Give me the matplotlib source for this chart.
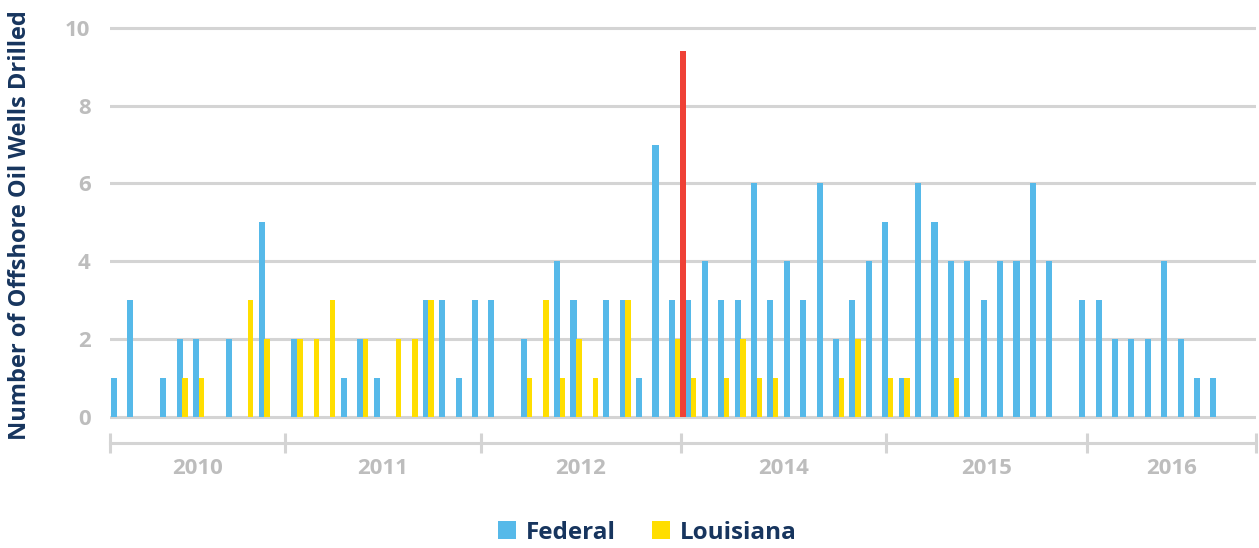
import matplotlib.pyplot as plt
import numpy as np

# monthly slots
federal = [1, 3, 0, 1, 2, 2, 0, 2, 0, 5,
           0, 2, 0, 0, 1, 2, 1, 0, 0, 3,
           3, 1, 3, 3, 0, 2, 0, 4, 3, 0,
           3, 3, 1, 7, 3, 3, 4, 3, 3, 6,
           3, 4, 3, 6, 2, 3, 4, 5, 1, 6,
           5, 4, 4, 3, 4, 4, 6, 4, 0, 3,
           3, 2, 2, 2, 4, 2, 1, 1, 0, 0]
louisiana = [0, 0, 0, 0, 1, 1, 0, 0, 3, 2,
             0, 2, 2, 3, 0, 2, 0, 2, 2, 3,
             0, 0, 0, 0, 0, 1, 3, 1, 2, 1,
             0, 3, 0, 0, 2, 1, 0, 1, 2, 1,
             1, 0, 0, 0, 1, 2, 0, 1, 1, 0,
             0, 1, 0, 0, 0, 0, 0, 0, 0, 0,
             0, 0, 0, 0, 0, 0, 0, 0, 0, 0]
highlight_slot = 34
highlight_value = 9.4

years = ['2010', '2011', '2012', '2014', '2015', '2016']
year_edges = [-0.04, 10.6, 22.55, 34.72, 47.23, 59.46, 69.76]

BLUE = '#56B9E9'
YELLOW = '#FFDE00'
RED = '#EF4136'
GRID = '#D4D4D4'
TICK_GREY = '#BDBDBD'
NAVY = '#17355E'
FONT = 'Open Sans'

fig = plt.figure(figsize=(12.59, 5.48), dpi=100)
ax = fig.add_axes([110 / 1259, 1 - 443 / 548, 1146 / 1259, (443 - 26) / 548])

x = np.arange(len(federal))
ax.bar(x, federal, width=0.37, align='edge', color=BLUE, label='Federal', zorder=2)
ax.bar(x + 0.35, louisiana, width=0.33, align='edge', color=YELLOW, label='Louisiana', zorder=3)
ax.bar(highlight_slot + 0.68, highlight_value, width=0.37, align='edge', color=RED, zorder=4)

ax.set_xlim(-0.06, 69.78)
ax.set_ylim(-0.68, 10.05)

ax.set_yticks(range(0, 11, 2))
ax.yaxis.grid(True, color=GRID, linewidth=2.2)
ax.set_axisbelow(True)
ax.tick_params(axis='y', length=0, pad=14, labelsize=16, labelcolor=TICK_GREY)

ax.set_xticks(year_edges)
ax.set_xticklabels([])
mids = [(a + b) / 2 for a, b in zip(year_edges[:-1], year_edges[1:])]
ax.set_xticks(mids, minor=True)
ax.set_xticklabels(years, minor=True)
ax.tick_params(axis='x', which='major', direction='inout', length=14, width=2.2, color=GRID)
ax.tick_params(axis='x', which='minor', length=0, pad=11, labelsize=16, labelcolor=TICK_GREY)

for s in ['top', 'right', 'left']:
    ax.spines[s].set_visible(False)
ax.spines['bottom'].set_color(GRID)
ax.spines['bottom'].set_linewidth(2.2)

for lbl in ax.get_yticklabels() + ax.get_xticklabels(minor=True):
    lbl.set_fontfamily(FONT)
    lbl.set_fontweight('bold')

fig.text(20 / 1259, 1 - 225 / 548, 'Number of Offshore Oil Wells Drilled', rotation=90,
         ha='center', va='center', fontsize=17, fontweight='bold', color=NAVY, family=FONT)

leg = fig.legend(loc='center', bbox_to_anchor=(0.514, 0.028), ncol=2, frameon=False,
                 handlelength=0.75, handleheight=0.75, handletextpad=0.4, columnspacing=1.5,
                 prop={'family': FONT, 'weight': 'bold', 'size': 17.5})
for t in leg.get_texts():
    t.set_color(NAVY)

fig.savefig('out.png', dpi=100)
